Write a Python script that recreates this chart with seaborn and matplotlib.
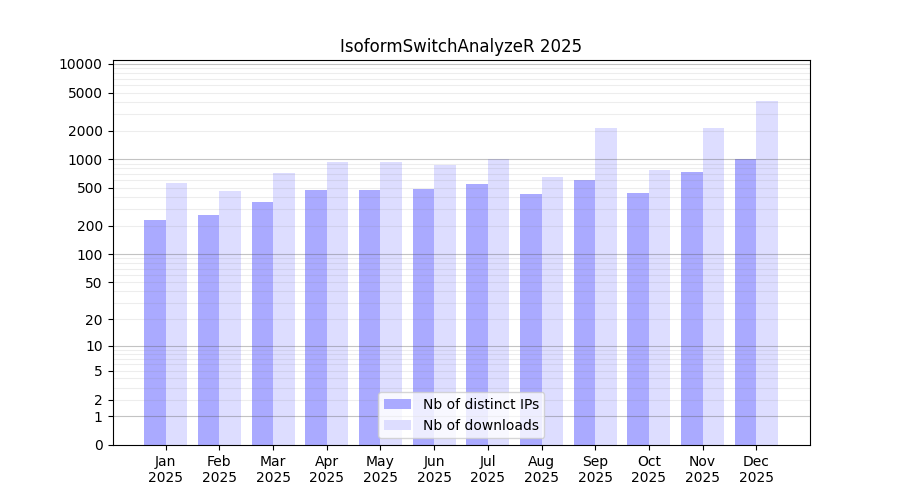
import numpy as np
import pandas as pd
import matplotlib
matplotlib.use("Agg")
import matplotlib.pyplot as plt
import seaborn as sns

# Data
months = ["Jan", "Feb", "Mar", "Apr", "May", "Jun",
          "Jul", "Aug", "Sep", "Oct", "Nov", "Dec"]
year = "2025"
distinct_ips = [229, 260, 356, 475, 475, 487, 550, 432, 606, 442, 735, 1005]
downloads = [563, 463, 717, 935, 935, 870, 1000, 651, 2130, 771, 2130, 4090]

ytick_values = [0, 1, 2, 5, 10, 20, 50, 100, 200, 500, 1000, 2000, 5000, 10000]
major_grid = [1, 10, 100, 1000, 10000]
minor_grid = [k * m for m in [1, 10, 100, 1000] for k in range(2, 10)]

series_labels = ["Nb of distinct IPs", "Nb of downloads"]


def fwd(y):
    return np.log10(np.clip(y, 0, None) + 1)


def inv(y):
    return 10 ** y - 1


df = pd.DataFrame({
    "month": months * 2,
    "count": distinct_ips + downloads,
    "series": [series_labels[0]] * len(months) + [series_labels[1]] * len(months),
})

fig, ax = plt.subplots(figsize=(9, 5), dpi=100)

sns.barplot(
    data=df, x="month", y="count", hue="series",
    palette=["#aaaaff", "#ddddff"], saturation=1, width=0.8,
    order=months, hue_order=series_labels, ax=ax, zorder=1,
)

ax.set_yscale("function", functions=(fwd, inv))
ax.set_ylim(0, 11000)
ax.set_xlim(-0.99, 12.0)

ax.set_yticks(ytick_values)
ax.set_yticklabels([str(v) for v in ytick_values])
ax.yaxis.set_minor_locator(matplotlib.ticker.NullLocator())

for v in minor_grid:
    ax.axhline(v, color="#888888", alpha=0.15, lw=0.8, zorder=2)
for v in major_grid:
    ax.axhline(v, color="#555555", alpha=0.35, lw=0.8, zorder=2)

ax.set_xticks(range(len(months)))
ax.set_xticklabels([f"{m}\n{year}" for m in months])
ax.set_xlabel("")
ax.set_ylabel("")
ax.set_title("IsoformSwitchAnalyzeR 2025")

handles, labels = ax.get_legend_handles_labels()
ax.legend(handles, labels, loc="lower center")

plt.savefig("out.png", dpi=100)
plt.close()
